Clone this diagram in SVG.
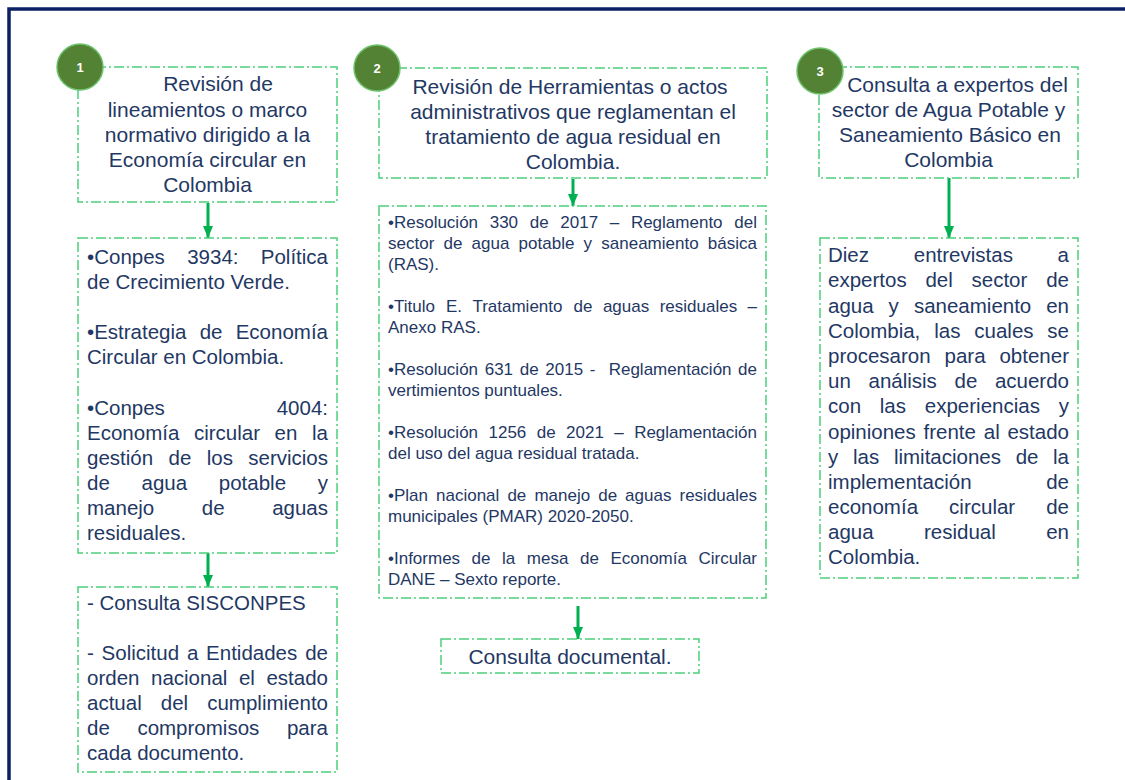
<svg xmlns="http://www.w3.org/2000/svg" width="1125" height="780" viewBox="0 0 1125 780">
<style>
text{font-family:"Liberation Sans",Arial,sans-serif;fill:#1f3864}
.h1{font-size:21px;text-anchor:middle}
.b{font-size:20.5px}
.s{font-size:17px}
.e{text-anchor:end}
.box{fill:#ffffff;stroke:#4ccf7c;stroke-width:1.5;stroke-dasharray:10 3 2 3}
.num{fill:#548235;stroke:#6cc26a;stroke-width:1.5}
.nt{fill:#ffffff;font-size:13px;font-weight:bold;text-anchor:middle}
.arr{stroke:#00b050;stroke-width:3;fill:none}
</style>
<defs>
<marker id="ah" markerUnits="userSpaceOnUse" markerWidth="12" markerHeight="10" refX="12" refY="5" orient="auto">
<path d="M0,0 L12,5 L0,10 Z" fill="#00b050"/>
</marker>
</defs>
<rect x="9" y="9" width="1140" height="800" fill="#ffffff" stroke="#0b2163" stroke-width="3.5"/>

<g id="connectors">
<line class="arr" x1="208" y1="203" x2="208" y2="238" marker-end="url(#ah)"/>
<line class="arr" x1="208" y1="553" x2="208" y2="587" marker-end="url(#ah)"/>
<line class="arr" x1="573" y1="179" x2="573" y2="206" marker-end="url(#ah)"/>
<line class="arr" x1="578" y1="606" x2="578" y2="639" marker-end="url(#ah)"/>
<line class="arr" x1="949" y1="178" x2="949" y2="238" marker-end="url(#ah)"/>
</g>

<g id="node1">
<rect class="box" x="78" y="67" width="259" height="135"/>
<text class="h1" x="218" y="91">Revisión de</text>
<text class="h1" x="207.5" y="117">lineamientos o marco</text>
<text class="h1" x="207.5" y="142">normativo dirigido a la</text>
<text class="h1" x="207.5" y="167">Economía circular en</text>
<text class="h1" x="207.5" y="192">Colombia</text>
<circle class="num" cx="80" cy="67" r="23"/>
<text class="nt" x="80" y="72">1</text>
</g>

<g id="node1b">
<rect class="box" x="78" y="238" width="259" height="315"/>
<text class="b" y="264"><tspan x="87">•Conpes</tspan><tspan x="187.2">3934:</tspan><tspan class="e" x="328">Política</tspan></text>
<text class="b" x="87" y="289">de Crecimiento Verde.</text>
<text class="b" y="339"><tspan x="87">•Estrategia</tspan><tspan x="199.7">de</tspan><tspan class="e" x="328">Economía</tspan></text>
<text class="b" x="87" y="364">Circular en Colombia.</text>
<text class="b" y="415"><tspan x="87">•Conpes</tspan><tspan class="e" x="328">4004:</tspan></text>
<text class="b" y="440"><tspan x="87">Economía</tspan><tspan x="193.9">circular</tspan><tspan x="274.6">en</tspan><tspan class="e" x="328">la</tspan></text>
<text class="b" y="465"><tspan x="87">gestión</tspan><tspan x="168.5">de</tspan><tspan x="206.7">los</tspan><tspan class="e" x="328">servicios</tspan></text>
<text class="b" y="490"><tspan x="87">de</tspan><tspan x="141.5">agua</tspan><tspan x="218.8">potable</tspan><tspan class="e" x="328">y</tspan></text>
<text class="b" y="515"><tspan x="87">manejo</tspan><tspan x="201.8">de</tspan><tspan class="e" x="328">aguas</tspan></text>
<text class="b" x="87" y="540">residuales.</text>
</g>

<g id="node1c">
<rect class="box" x="78" y="587" width="259" height="185"/>
<text class="b" x="87" y="610">- Consulta SISCONPES</text>
<text class="b" y="660"><tspan x="87">-</tspan><tspan x="101.6">Solicitud</tspan><tspan x="186.9">a</tspan><tspan x="206.1">Entidades</tspan><tspan class="e" x="328">de</tspan></text>
<text class="b" y="685"><tspan x="87">orden</tspan><tspan x="151">nacional</tspan><tspan x="238.9">el</tspan><tspan class="e" x="328">estado</tspan></text>
<text class="b" y="710"><tspan x="87">actual</tspan><tspan x="160.8">del</tspan><tspan class="e" x="328">cumplimiento</tspan></text>
<text class="b" y="735"><tspan x="87">de</tspan><tspan x="137.4">compromisos</tspan><tspan class="e" x="328">para</tspan></text>
<text class="b" x="87" y="760">cada documento.</text>
</g>

<g id="node2">
<rect class="box" x="379" y="68" width="388" height="110"/>
<text class="h1" x="570" y="94">Revisión de Herramientas o actos</text>
<text class="h1" x="573" y="119">administrativos que reglamentan el</text>
<text class="h1" x="573" y="144">tratamiento de agua residual en</text>
<text class="h1" x="573" y="169">Colombia.</text>
<circle class="num" cx="377" cy="68" r="23"/>
<text class="nt" x="377" y="73">2</text>
</g>

<g id="node2b">
<rect class="box" x="379" y="206" width="387" height="392"/>
<text class="s" y="228"><tspan x="388">•Resolución</tspan><tspan x="489.7">330</tspan><tspan x="529.7">de</tspan><tspan x="560.3">2017</tspan><tspan x="609.8">–</tspan><tspan x="630.9">Reglamento</tspan><tspan class="e" x="757">del</tspan></text>
<text class="s" y="249"><tspan x="388">sector</tspan><tspan x="443.5">de</tspan><tspan x="471.6">agua</tspan><tspan x="518.6">potable</tspan><tspan x="583.6">y</tspan><tspan x="601.3">saneamiento</tspan><tspan class="e" x="757">básica</tspan></text>
<text class="s" x="388" y="270">(RAS).</text>
<text class="s" y="312"><tspan x="388">•Titulo</tspan><tspan x="445.9">E.</tspan><tspan x="472.4">Tratamiento</tspan><tspan x="573.6">de</tspan><tspan x="602.9">aguas</tspan><tspan x="659.7">residuales</tspan><tspan class="e" x="757">–</tspan></text>
<text class="s" x="388" y="333">Anexo RAS.</text>
<text class="s" y="375"><tspan x="388">•Resolución</tspan><tspan x="484.7">631</tspan><tspan x="519.7">de</tspan><tspan x="545.3">2015</tspan><tspan x="589.7">-</tspan><tspan x="608.7">Reglamentación</tspan><tspan class="e" x="757">de</tspan></text>
<text class="s" x="388" y="396">vertimientos puntuales.</text>
<text class="s" y="438"><tspan x="388">•Resolución</tspan><tspan x="488.5">1256</tspan><tspan x="536.7">de</tspan><tspan x="566.1">2021</tspan><tspan x="614.3">–</tspan><tspan class="e" x="757">Reglamentación</tspan></text>
<text class="s" x="388" y="459">del uso del agua residual tratada.</text>
<text class="s" y="501"><tspan x="388">•Plan</tspan><tspan x="436">nacional</tspan><tspan x="507.4">de</tspan><tspan x="534.4">manejo</tspan><tspan x="598.2">de</tspan><tspan x="625.1">aguas</tspan><tspan class="e" x="757">residuales</tspan></text>
<text class="s" x="388" y="522">municipales (PMAR) 2020-2050.</text>
<text class="s" y="564"><tspan x="388">•Informes</tspan><tspan x="471.6">de</tspan><tspan x="502.1">la</tspan><tspan x="526.8">mesa</tspan><tspan x="580">de</tspan><tspan x="610.4">Economía</tspan><tspan class="e" x="757">Circular</tspan></text>
<text class="s" x="388" y="585">DANE – Sexto reporte.</text>
</g>

<g id="node2c">
<rect class="box" x="441" y="639" width="258" height="34"/>
<text class="h1" x="570" y="664">Consulta documental.</text>
</g>

<g id="node3">
<rect class="box" x="819" y="67" width="259" height="111"/>
<text class="h1" x="957.5" y="92">Consulta a expertos del</text>
<text class="h1" x="948.5" y="117">sector de Agua Potable y</text>
<text class="h1" x="950" y="142">Saneamiento Básico en</text>
<text class="h1" x="948.5" y="167">Colombia</text>
<circle class="num" cx="820" cy="71" r="23"/>
<text class="nt" x="820" y="76">3</text>
</g>

<g id="node3b">
<rect class="box" x="820" y="238" width="258" height="340"/>
<text class="b" y="262"><tspan x="828">Diez</tspan><tspan x="913.8">entrevistas</tspan><tspan class="e" x="1069">a</tspan></text>
<text class="b" y="287"><tspan x="828">expertos</tspan><tspan x="925.4">del</tspan><tspan x="971.5">sector</tspan><tspan class="e" x="1069">de</tspan></text>
<text class="b" y="313"><tspan x="828">agua</tspan><tspan x="888.6">y</tspan><tspan x="913.9">saneamiento</tspan><tspan class="e" x="1069">en</tspan></text>
<text class="b" y="338"><tspan x="828">Colombia,</tspan><tspan x="934.2">las</tspan><tspan x="974.3">cuales</tspan><tspan class="e" x="1069">se</tspan></text>
<text class="b" y="363"><tspan x="828">procesaron</tspan><tspan x="944.5">para</tspan><tspan class="e" x="1069">obtener</tspan></text>
<text class="b" y="388"><tspan x="828">un</tspan><tspan x="868.5">análisis</tspan><tspan x="954.5">de</tspan><tspan class="e" x="1069">acuerdo</tspan></text>
<text class="b" y="413"><tspan x="828">con</tspan><tspan x="879.8">las</tspan><tspan x="924.8">experiencias</tspan><tspan class="e" x="1069">y</tspan></text>
<text class="b" y="439"><tspan x="828">opiniones</tspan><tspan x="923.5">frente</tspan><tspan x="983.8">al</tspan><tspan class="e" x="1069">estado</tspan></text>
<text class="b" y="464"><tspan x="828">y</tspan><tspan x="853">las</tspan><tspan x="893.9">limitaciones</tspan><tspan x="1015.7">de</tspan><tspan class="e" x="1069">la</tspan></text>
<text class="b" y="489"><tspan x="828">implementación</tspan><tspan class="e" x="1069">de</tspan></text>
<text class="b" y="514"><tspan x="828">economía</tspan><tspan x="949.1">circular</tspan><tspan class="e" x="1069">de</tspan></text>
<text class="b" y="539"><tspan x="828">agua</tspan><tspan x="924">residual</tspan><tspan class="e" x="1069">en</tspan></text>
<text class="b" x="828" y="564">Colombia.</text>
</g>
</svg>
